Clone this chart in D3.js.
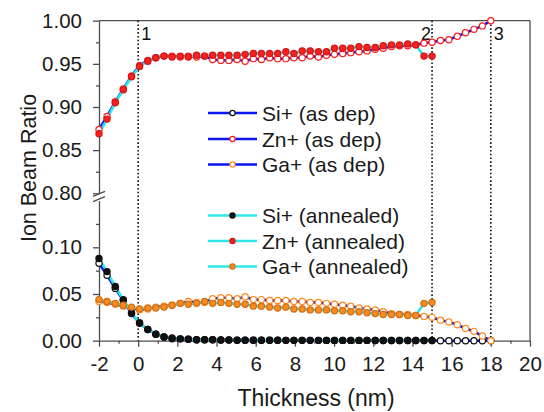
<!DOCTYPE html>
<html>
<head>
<meta charset="utf-8">
<script src="https://cdn.jsdelivr.net/npm/d3@7"></script>
<style>
  body { margin: 0; background: #fff; }
  svg { display: block; font-family: "Liberation Sans", Arial, sans-serif; }
</style>
</head>
<body>
<svg id="chart" width="544" height="412"></svg>
<script>
// thickness (nm) of each sputter step
var thickness = [-2.00, -1.59, -1.17, -0.76, -0.34, 0.07, 0.49, 0.90, 1.32, 1.73,
  2.15, 2.56, 2.98, 3.39, 3.80, 4.22, 4.63, 5.05, 5.46, 5.88,
  6.29, 6.71, 7.12, 7.54, 7.95, 8.37, 8.78, 9.20, 9.61, 10.02,
  10.44, 10.85, 11.27, 11.68, 12.10, 12.51, 12.93, 13.34, 13.76, 14.17,
  14.59, 15.00, 15.43, 15.86, 16.29, 16.71, 17.14, 17.57, 18.00];

// as deposited
var siDep = [0.083, 0.070, 0.056, 0.043, 0.029, 0.019, 0.012, 0.007, 0.004, 0.002,
  0.002, 0.0015, 0.001, 0.001, 0.001, 0.0008, 0.0008, 0.0006, 0.0006, 0.0005,
  0.0005, 0.0005, 0.0005, 0.0004, 0.0004, 0.0004, 0.0004, 0.0004, 0.0003, 0.0003,
  0.0003, 0.0003, 0.0003, 0.0003, 0.0002, 0.0002, 0.0002, 0.0002, 0.0002, 0.0002,
  0.0001, 0.0001, 0, 0, 0, 0, 0, 0, 0];
var znDep = [0.874, 0.889, 0.906, 0.921, 0.936, 0.948, 0.954, 0.957, 0.959, 0.959,
  0.958, 0.959, 0.958, 0.959, 0.955, 0.954, 0.954, 0.955, 0.953, 0.956,
  0.955, 0.957, 0.956, 0.956, 0.957, 0.957, 0.959, 0.958, 0.960, 0.961,
  0.962, 0.963, 0.964, 0.965, 0.967, 0.968, 0.970, 0.971, 0.971, 0.972,
  0.974, 0.975, 0.977, 0.978, 0.982, 0.986, 0.990, 0.994, 1.000];
var gaDep = [0.042, 0.041, 0.039, 0.037, 0.035, 0.033, 0.034, 0.036, 0.037, 0.038,
  0.040, 0.042, 0.041, 0.041, 0.045, 0.046, 0.046, 0.045, 0.047, 0.044,
  0.044, 0.043, 0.043, 0.043, 0.042, 0.042, 0.041, 0.041, 0.040, 0.039,
  0.038, 0.037, 0.035, 0.034, 0.033, 0.031, 0.029, 0.028, 0.028, 0.027,
  0.026, 0.025, 0.022, 0.020, 0.017, 0.013, 0.010, 0.005, 0.000];

// annealed (measured up to 15 nm)
var siAnn = [0.088, 0.074, 0.058, 0.044, 0.030, 0.019, 0.012, 0.007, 0.004, 0.003,
  0.002, 0.0015, 0.001, 0.001, 0.001, 0.0008, 0.0008, 0.0006, 0.0006, 0.0005,
  0.0005, 0.0005, 0.0005, 0.0004, 0.0004, 0.0004, 0.0004, 0.0004, 0.0003, 0.0003,
  0.0003, 0.0003, 0.0003, 0.0003, 0.0002, 0.0002, 0.0002, 0.0002, 0.0002, 0.0002,
  0.0002, 0.0002];
var znAnn = [0.869, 0.886, 0.905, 0.920, 0.935, 0.947, 0.953, 0.957, 0.959, 0.958,
  0.959, 0.958, 0.960, 0.959, 0.960, 0.960, 0.960, 0.960, 0.961, 0.962,
  0.962, 0.962, 0.962, 0.964, 0.962, 0.965, 0.965, 0.964, 0.964, 0.968,
  0.968, 0.968, 0.970, 0.969, 0.969, 0.971, 0.972, 0.972, 0.973, 0.972,
  0.959, 0.959];
var gaAnn = [0.044, 0.042, 0.040, 0.038, 0.036, 0.034, 0.035, 0.035, 0.036, 0.038,
  0.040, 0.039, 0.040, 0.042, 0.040, 0.041, 0.040, 0.039, 0.039, 0.037,
  0.037, 0.036, 0.035, 0.036, 0.034, 0.034, 0.033, 0.033, 0.033, 0.032,
  0.032, 0.031, 0.031, 0.030, 0.029, 0.028, 0.028, 0.028, 0.027, 0.027,
  0.040, 0.041];

var xTicks = [-2, 0, 2, 4, 6, 8, 10, 12, 14, 16, 18, 20];
var yHiTicks = [0.80, 0.85, 0.90, 0.95, 1.00];
var yLoTicks = [0.00, 0.05, 0.10];
var markLines = [0, 15, 18];
var markLabels = ["1", "2", "3"];

var blue = "#0b16f2", cyan = "#2ee8e8";
var red = "#ff1e1e", orange = "#ff8a1c", black = "#111";

var svg = d3.select("#chart");

var x = d3.scaleLinear().domain([-2, 20]).range([99, 530]);
var yHi = d3.scaleLinear().domain([0.80, 1.00]).range([193.3, 20.7]);
var yLo = d3.scaleLinear().domain([0, 0.15]).range([340.7, 200.6]);

var axisColor = "#4d4d4d";

// frame top + right
svg.append("line").attr("x1", 99).attr("x2", 530).attr("y1", 20.7).attr("y2", 20.7)
  .attr("stroke", axisColor).attr("stroke-width", 1.3);
svg.append("line").attr("x1", 530).attr("x2", 530).attr("y1", 20.7).attr("y2", 340.7)
  .attr("stroke", axisColor).attr("stroke-width", 1.3);

// X axis
var gx = svg.append("g").attr("transform", "translate(0,340.7)")
  .call(d3.axisBottom(x).tickValues(xTicks).tickSize(6).tickSizeOuter(0)
    .tickFormat(function(d) { return String(d); }));
svg.append("g").attr("transform", "translate(0,340.7)")
  .call(d3.axisBottom(x).tickValues(d3.range(-1, 20, 2)).tickSize(3).tickFormat(""))
  .select(".domain").remove();

// Y axes (broken)
var yFmt = d3.format(".2f");
var gyHi = svg.append("g").attr("transform", "translate(99,0)")
  .call(d3.axisLeft(yHi).tickValues(yHiTicks).tickSize(6).tickPadding(11).tickSizeOuter(0).tickFormat(yFmt));
svg.append("g").attr("transform", "translate(99,0)")
  .call(d3.axisLeft(yHi).tickValues([0.825, 0.875, 0.925, 0.975]).tickSize(3).tickFormat(""))
  .select(".domain").remove();
var gyLo = svg.append("g").attr("transform", "translate(99,0)")
  .call(d3.axisLeft(yLo).tickValues(yLoTicks).tickSize(6).tickPadding(11).tickSizeOuter(0).tickFormat(yFmt));
svg.append("g").attr("transform", "translate(99,0)")
  .call(d3.axisLeft(yLo).tickValues([0.025, 0.075, 0.125]).tickSize(3).tickFormat(""))
  .select(".domain").remove();

svg.selectAll(".domain, .tick line").attr("stroke", axisColor).attr("stroke-width", 1.3);
svg.selectAll(".tick text").attr("fill", "#1a1a1a").style("font-size", "20.5px")
  .style("font-family", "'Liberation Sans', Arial, sans-serif");
gx.selectAll(".tick text").attr("dy", "1.02em");

// break marks
[193.8, 199.2].forEach(function(yy) {
  svg.append("line").attr("x1", 93).attr("x2", 105).attr("y1", yy + 2.5).attr("y2", yy - 2.5)
    .attr("stroke", axisColor).attr("stroke-width", 1.3);
});

// dotted markers
markLines.forEach(function(t, i) {
  svg.append("line").attr("x1", x(t)).attr("x2", x(t)).attr("y1", 20.7).attr("y2", 340.7)
    .attr("stroke", "#111").attr("stroke-width", 1.6).attr("stroke-dasharray", "1.6,2.2");
  svg.append("text")
    .attr("x", i === 1 ? x(t) - 1 : x(t) + 3)
    .attr("y", 40)
    .attr("text-anchor", i === 1 ? "end" : "start")
    .style("font-size", "18px").attr("fill", "#111")
    .text(markLabels[i]);
});

function series(vals) {
  return vals.map(function(v, i) { return [thickness[i], v]; });
}

var data = [
  { vals: siDep, ys: yLo, line: blue, mark: black, filled: false },
  { vals: znDep, ys: yHi, line: blue, mark: red, filled: false },
  { vals: gaDep, ys: yLo, line: blue, mark: orange, filled: false },
  { vals: siAnn, ys: yLo, line: cyan, mark: black, filled: true },
  { vals: znAnn, ys: yHi, line: cyan, mark: red, filled: true },
  { vals: gaAnn, ys: yLo, line: cyan, mark: orange, filled: true }
];

data.forEach(function(s) {
  var line = d3.line().x(function(d) { return x(d[0]); }).y(function(d) { return s.ys(d[1]); });
  svg.append("path").datum(series(s.vals)).attr("d", line)
    .attr("fill", "none").attr("stroke", s.line).attr("stroke-width", 2.6);
});

data.forEach(function(s) {
  svg.append("g").selectAll("circle").data(series(s.vals)).enter().append("circle")
    .attr("cx", function(d) { return x(d[0]); })
    .attr("cy", function(d) { return s.ys(d[1]); })
    .attr("r", 3.1)
    .attr("fill", s.filled ? s.mark : "#fff")
    .attr("stroke", s.filled ? d3.color(s.mark).darker(0.6) : s.mark)
    .attr("stroke-width", 1.2);
});

// legend
var legend = [
  { label: "Si+ (as dep)", line: blue, mark: black, filled: false, y: 113 },
  { label: "Zn+ (as dep)", line: blue, mark: red, filled: false, y: 139 },
  { label: "Ga+ (as dep)", line: blue, mark: orange, filled: false, y: 164.5 },
  { label: "Si+ (annealed)", line: cyan, mark: black, filled: true, y: 215.5 },
  { label: "Zn+ (annealed)", line: cyan, mark: red, filled: true, y: 241 },
  { label: "Ga+ (annealed)", line: cyan, mark: orange, filled: true, y: 266.5 }
];
var lg = svg.append("g");
legend.forEach(function(l) {
  lg.append("line").attr("x1", 208).attr("x2", 257).attr("y1", l.y).attr("y2", l.y)
    .attr("stroke", l.line).attr("stroke-width", 2.6);
  lg.append("circle").attr("cx", 232.5).attr("cy", l.y).attr("r", 2.6)
    .attr("fill", l.filled ? l.mark : "#fff")
    .attr("stroke", l.filled ? d3.color(l.mark).darker(0.6) : l.mark)
    .attr("stroke-width", 1.2);
  lg.append("text").attr("x", 262).attr("y", l.y).attr("dy", "0.36em")
    .style("font-size", "21px").attr("fill", "#1a1a1a").text(l.label);
});

// axis titles
svg.append("text")
  .attr("transform", "translate(36,168) rotate(-90)")
  .attr("text-anchor", "middle")
  .style("font-size", "21.5px").attr("fill", "#1a1a1a")
  .text("Ion Beam Ratio");
svg.append("text")
  .attr("x", 316).attr("y", 406)
  .attr("text-anchor", "middle")
  .style("font-size", "23px").attr("fill", "#1a1a1a")
  .text("Thickness (nm)");
</script>
</body>
</html>
